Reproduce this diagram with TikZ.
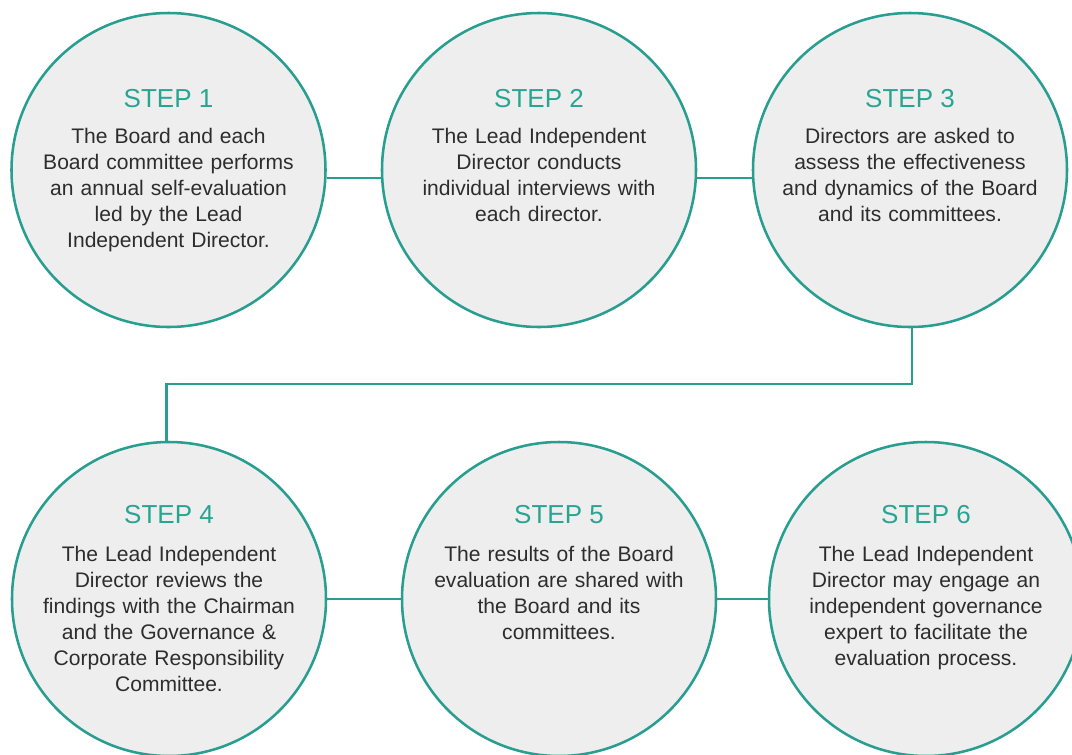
\documentclass[tikz,border=0pt]{standalone}
\usepackage{fontspec}
\setmainfont{Liberation Sans}
\definecolor{tealline}{RGB}{40,158,144}
\definecolor{tealtext}{RGB}{38,165,145}
\definecolor{circfill}{RGB}{238,238,238}
\definecolor{bodytext}{RGB}{45,45,45}
\begin{document}
\begin{tikzpicture}[x=0.75pt,y=-0.75pt]
\tikzset{
  stepcircle/.style={circle, draw=tealline, line width=1.9pt, fill=circfill, minimum size=235.5pt, inner sep=0pt},
  steptitle/.style={anchor=base, text=tealtext, font=\fontsize{19.5pt}{23pt}\selectfont, inner sep=0pt},
  stepbody/.style={anchor=base, text=bodytext, align=center, text width=225pt, font=\fontsize{15.8pt}{19.5pt}\selectfont, inner sep=0pt},
  conn/.style={draw=tealline, line width=1.9pt}
}
\fill[white] (0,0) rectangle (1072,754);
\useasboundingbox (0,0) rectangle (1072,754);

\coordinate (mid) at (540,384);

\node[stepcircle] (c1) at (168.5,170) {};
\node[stepcircle] (c2) at (539,170) {};
\node[stepcircle] (c3) at (910,170) {};
\node[stepcircle] (c4) at (169,599) {};
\node[stepcircle] (c5) at (559,599) {};
\node[stepcircle] (c6) at (926,599) {};

\draw[conn] ([yshift=-6pt]c1.east) -- ([yshift=-6pt]c2.west);
\draw[conn] ([yshift=-6pt]c2.east) -- ([yshift=-6pt]c3.west);
\draw[conn] ([xshift=1.5pt]c3.south) |- (mid) -| ([xshift=-2pt]c4.north);
\draw[conn] (c4.east) -- (c5.west);
\draw[conn] (c5.east) -- (c6.west);

\node[steptitle] (t1) at (168.5,107) {STEP 1};
\node[stepbody] (b1) at (168.5,143) {The Board and each\\Board committee performs\\an annual self-evaluation\\led by the Lead\\Independent Director.};

\node[steptitle] (t2) at (539,107) {STEP 2};
\node[stepbody] (b2) at (539,143) {The Lead Independent\\Director conducts\\individual interviews with\\each director.};

\node[steptitle] (t3) at (910,107) {STEP 3};
\node[stepbody] (b3) at (910,143) {Directors are asked to\\assess the effectiveness\\and dynamics of the Board\\and its committees.};

\node[steptitle] (t4) at (169,523) {STEP 4};
\node[stepbody] (b4) at (169,561) {The Lead Independent\\Director reviews the\\findings with the Chairman\\and the Governance \&\\Corporate Responsibility\\Committee.};

\node[steptitle] (t5) at (559,523) {STEP 5};
\node[stepbody] (b5) at (559,561) {The results of the Board\\evaluation are shared with\\the Board and its\\committees.};

\node[steptitle] (t6) at (926,523) {STEP 6};
\node[stepbody] (b6) at (926,561) {The Lead Independent\\Director may engage an\\independent governance\\expert to facilitate the\\evaluation process.};
\end{tikzpicture}
\end{document}
